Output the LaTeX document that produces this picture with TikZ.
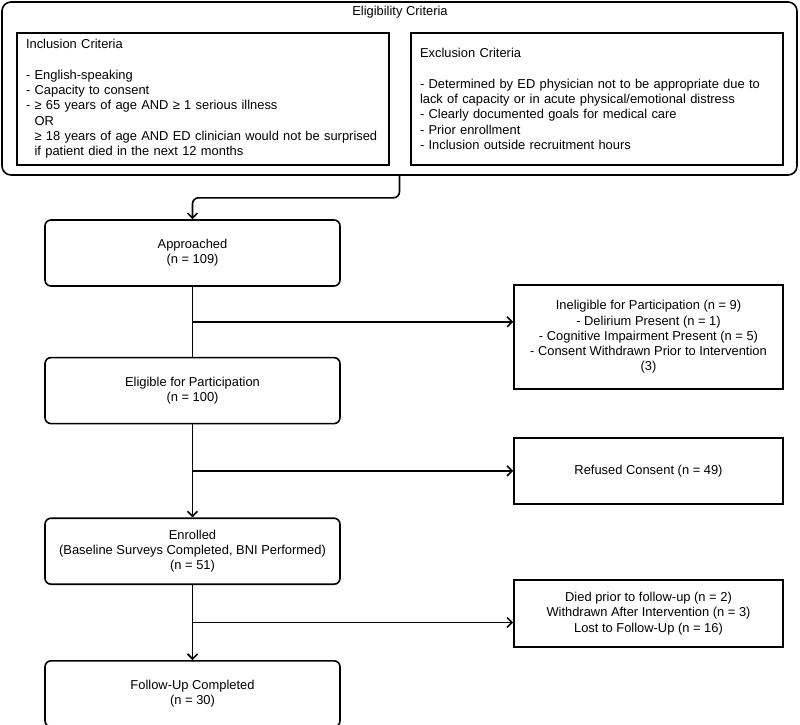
\documentclass[tikz,border=0pt]{standalone}
\usepackage{fontspec}
\setmainfont{Liberation Sans}
\usetikzlibrary{positioning,calc,arrows.meta}

\begin{document}
\begin{tikzpicture}[x=1pt, y=-1pt,
	every node/.style = {font=\fontsize{12.9}{15.3}\selectfont},
	main/.style = {draw, line width=1.6pt, rounded corners=6pt, minimum width=295pt, minimum height=66pt, align=center},
	side/.style = {draw, line width=1.6pt, minimum width=269pt, align=center},
	crit/.style = {draw, line width=1.8pt, minimum width=372pt, minimum height=132pt, text width=354pt, align=left},
	flow/.style = {line width=1.6pt, -{Straight Barb[length=5pt,width=10pt]}}]
	\useasboundingbox (0,0) rectangle (800,724);
	% eligibility criteria
	\node[draw, line width=1.6pt, rounded corners=9pt, minimum width=795pt, minimum height=173pt] (crit) at (399.5,88.5) {};
	\node (title) at (400,12.5) {Eligibility Criteria};
	\node[crit] (incl) at (203,99) {Inclusion Criteria\\[15.3pt]
		- English-speaking\\
		- Capacity to consent\\
		- ≥ 65 years of age AND ≥ 1 serious illness\\
		\phantom{- }OR\\
		\phantom{- }≥ 18 years of age AND ED clinician would not be surprised\\
		\phantom{- }if patient died in the next 12 months};
	\node[crit] (excl) at (597,99) {Exclusion Criteria\\[15.3pt]
		- Determined by ED physician not to be appropriate due to\\
		lack of capacity or in acute physical/emotional distress\\
		- Clearly documented goals for medical care\\
		- Prior enrollment\\
		- Inclusion outside recruitment hours};
	% main column
	\node[main] (appr) at (192.5,253) {Approached\\(n = 109)};
	\node[main] (ok) [below=70pt of appr] {Eligible for Participation\\(n = 100)};
	\node[main] (enr) [below=93pt of ok] {Enrolled\\(Baseline Surveys Completed, BNI Performed)\\(n = 51)};
	\node[main] (fu) [below=75pt of enr] {Follow-Up Completed\\(n = 30)};
	% side boxes
	\node[side, minimum height=104pt] (inel) at (648.5,337) {Ineligible for Participation (n = 9)\\
		- Delirium Present (n = 1)\\
		- Cognitive Impairment Present (n = 5)\\
		- Consent Withdrawn Prior to Intervention\\
		(3)};
	\node[side, minimum height=66pt] (ref) at (648.5,471) {Refused Consent (n = 49)};
	\node[side, minimum height=67pt] (lost) at (648.5,613.5) {Died prior to follow-up (n = 2)\\
		Withdrawn After Intervention (n = 3)\\
		Lost to Follow-Up (n = 16)};
	\coordinate (b1) at ($(appr.south)!.5!(ok.north)$);
	\coordinate (b2) at ($(ok.south)!.5!(enr.north)$);
	\coordinate (b3) at ($(enr.south)!.5!(fu.north)$);
	\draw[flow, rounded corners=6pt] (crit.south) -- ++(0,22) -| (appr.north);
	\draw[line width=1.6pt] (appr) -- (ok);
	\draw[flow] (ok) -- (enr);
	\draw[flow] (enr) -- (fu);
	\draw[flow] (b1) -- (b1 -| inel.west);
	\draw[flow] (b2) -- (b2 -| ref.west);
	\draw[flow] (b3) -- (b3 -| lost.west);
\end{tikzpicture}
\end{document}
